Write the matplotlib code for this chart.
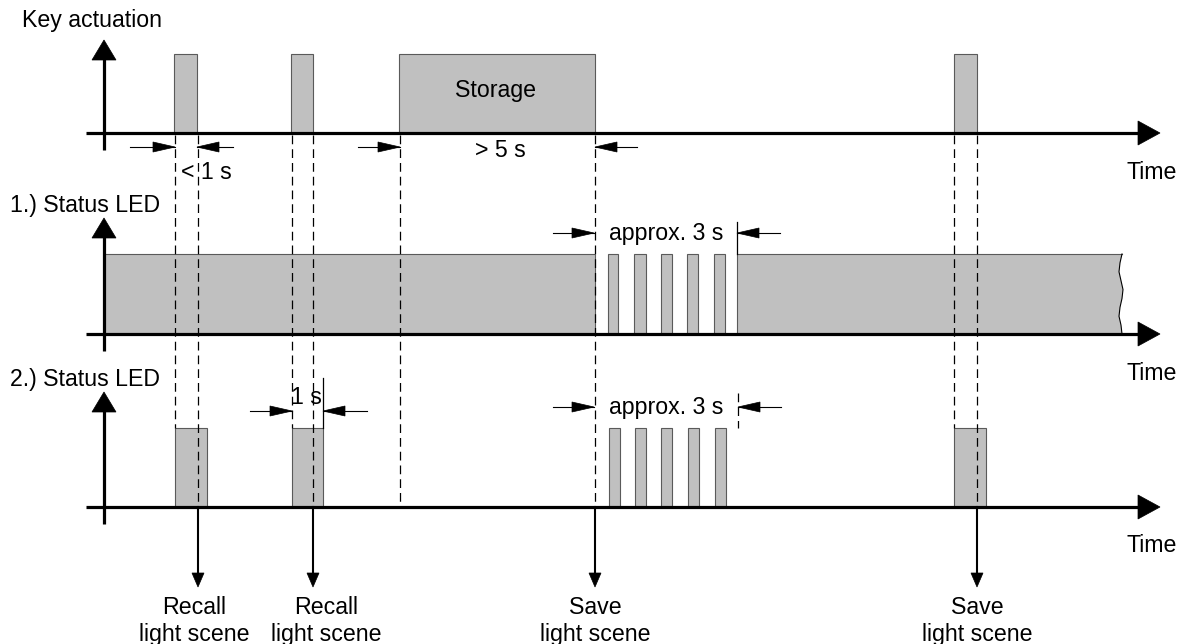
import numpy as np
import matplotlib.pyplot as plt
from matplotlib.patches import Rectangle, Polygon

plt.rcParams['font.family'] = ['Liberation Sans', 'DejaVu Sans']

# positions along the time axis (pixels of the 1187x644 drawing)
key_pulses = [(174, 197), (291, 313), (399, 595), (954, 977)]
led1_on = [(104, 595)]
led1_blinks = [(608, 618), (634, 646), (661, 672), (687, 698), (714, 725)]
led1_after = (737, 1122)
led2_pulses = [(175, 207), (292, 323), (954, 986)]
led2_blinks = [(609, 620), (635, 646), (661, 672), (688, 699), (715, 726)]

# rows: baseline, pulse top, arrow tip of the y axis
row_base = [133, 334, 507]
row_top = [54, 254, 428]
row_arrow_tip = [40, 218, 392]
row_labels = ['Key actuation', '1.) Status LED', '2.) Status LED']
row_label_x = [22, 10, 10]
row_label_y = [20, 205, 379]

# dashed guide lines and where they stop
guides_x = [175, 198, 292, 313, 400, 595, 954, 977]
guides_end = [428, 507, 428, 507, 507, 507, 428, 507]

events_x = [198, 313, 595, 977]
events_label_x = [194, 326, 595, 977]
events_text = ['Recall\nlight scene', 'Recall\nlight scene',
               'Save\nlight scene', 'Save\nlight scene']

wave = [0, -2, -3, -1, 1, 0, -2, -3, -1, 0]

FILL = '#c0c0c0'
EDGE = '#5a5a5a'
FS = 16.7

fig = plt.figure(figsize=(11.87, 6.44), dpi=100)
ax = fig.add_axes([0, 0, 1, 1])
ax.set_xlim(0, 1187)
ax.set_ylim(644, 0)
ax.axis('off')


def head(tip, base, half, horizontal):
    if horizontal:
        pts = [(tip[0], tip[1]), (base, tip[1] - half), (base, tip[1] + half)]
    else:
        pts = [(tip[0], tip[1]), (tip[0] - half, base), (tip[0] + half, base)]
    ax.add_patch(Polygon(pts, closed=True, facecolor='black', edgecolor='black', lw=0.5, zorder=6))


def box(x0, x1, y0, y1):
    ax.add_patch(Rectangle((x0, y1), x1 - x0, y0 - y1, facecolor=FILL,
                           edgecolor=EDGE, lw=0.8, zorder=2))


def dim_arrow(x_from, x_tip, y):
    ax.plot([x_from, x_tip], [y, y], color='black', lw=0.8, zorder=5)
    d = 1 if x_tip > x_from else -1
    head((x_tip, y), x_tip - d * 22, 5, True)


# axes of the three rows
for base, tip in zip(row_base, row_arrow_tip):
    ax.plot([86, 1140], [base, base], color='black', lw=2.3, zorder=5, solid_capstyle='butt')
    head((1160, base), 1138, 12, True)
    ax.plot([104, 104], [tip + 18, base + 17], color='black', lw=2.3, zorder=5, solid_capstyle='butt')
    head((104, tip), tip + 20, 12, False)

for lab, x, y in zip(row_labels, row_label_x, row_label_y):
    ax.text(x, y, lab, fontsize=FS, va='center', ha='left')

for base in row_base:
    ax.text(1152, base + 39, 'Time', fontsize=FS, va='center', ha='center')

# key actuation
for x0, x1 in key_pulses:
    box(x0, x1, row_base[0], row_top[0])
ax.text(495, 90, 'Storage', fontsize=FS, va='center', ha='center', zorder=7)

# status LED 1
for x0, x1 in led1_on + led1_blinks:
    box(x0, x1, row_base[1], row_top[1])
x0, x1 = led1_after
edge_y = np.linspace(row_top[1], row_base[1], len(wave))
pts = [(x0, row_base[1]), (x0, row_top[1])] + [(x1 + w, y) for w, y in zip(wave, edge_y)]
ax.add_patch(Polygon(pts, closed=True, facecolor=FILL, edgecolor='none', zorder=2))
ax.plot([x0, x0, x1], [row_base[1], row_top[1], row_top[1]], color=EDGE, lw=0.8, zorder=2)
ax.plot([x1 + w for w in wave], edge_y, color='black', lw=0.8, zorder=2)

# status LED 2
for x0, x1 in led2_pulses + led2_blinks:
    box(x0, x1, row_base[2], row_top[2])

# dashed guides
for gx, gy in zip(guides_x, guides_end):
    ax.plot([gx, gx], [row_base[0] + 2, gy], color='black', lw=0.9,
            linestyle=(0, (7, 4)), zorder=3)

# event arrows and captions
for ex, lx, txt in zip(events_x, events_label_x, events_text):
    ax.plot([ex, ex], [row_base[2], 575], color='black', lw=1.5, zorder=5)
    head((ex, 587), 573, 6, False)
    ax.text(lx, 621, txt, fontsize=FS, va='center', ha='center')

# dimension marks
dim_arrow(130, 175, 147)
dim_arrow(233, 197, 147)
ax.text(206, 172, '< 1 s', fontsize=FS, va='center', ha='center')

dim_arrow(358, 400, 147)
dim_arrow(637, 595, 147)
ax.text(500, 150, '> 5 s', fontsize=FS, va='center', ha='center')

dim_arrow(553, 594, 233)
dim_arrow(780, 737, 233)
ax.plot([737, 737], [222, row_top[1]], color='black', lw=0.9, zorder=3)
ax.text(666, 233, 'approx. 3 s', fontsize=FS, va='center', ha='center')

dim_arrow(553, 594, 407)
dim_arrow(781, 738, 407)
ax.plot([738, 738], [393, row_top[2]], color='black', lw=0.9, linestyle=(0, (7, 4)), zorder=3)
ax.text(666, 407, 'approx. 3 s', fontsize=FS, va='center', ha='center')

dim_arrow(250, 292, 411)
dim_arrow(367, 323, 411)
ax.plot([323, 323], [378, row_top[2]], color='black', lw=0.9, zorder=3)
ax.text(306, 397, '1 s', fontsize=FS, va='center', ha='center')

fig.savefig('out.png', dpi=100, facecolor='white')
